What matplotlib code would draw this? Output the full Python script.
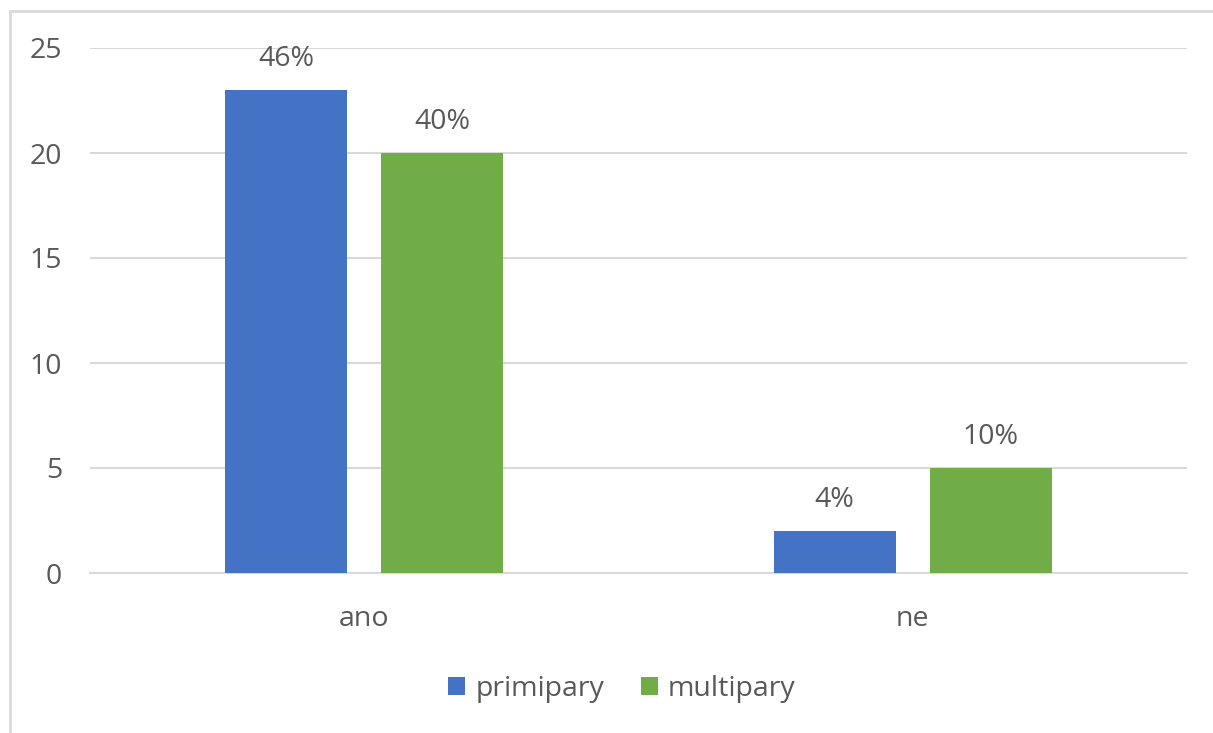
import numpy as np
import matplotlib
matplotlib.use('Agg')
import matplotlib.pyplot as plt
from matplotlib.patches import Rectangle

categories = ['ano', 'ne']
primipary = [23, 2]
multipary = [20, 5]
total = 50
yticks = [0, 5, 10, 15, 20, 25]

plt.rcParams['font.family'] = ['Open Sans', 'DejaVu Sans']
gray = '#595959'
fs = 20.5

W, H = 1213, 733
fig = plt.figure(figsize=(W / 100, H / 100), dpi=100)
ax = fig.add_axes([90 / W, 1 - 573 / H, (1187 - 90) / W, (573 - 48) / H])

# chart border (runs off the right and bottom edge)
fig.patches.append(Rectangle((10 / W, -0.1), 1.2, 1 - 11 / H + 0.1,
                             transform=fig.transFigure, fill=False,
                             edgecolor='#d9d9d9', linewidth=2))

x = np.arange(len(categories))
w = 0.2225
off = 0.1425
colors = ['#4472c4', '#70ad47']
b1 = ax.bar(x - off, primipary, w, color=colors[0], label='primipary', zorder=3)
b2 = ax.bar(x + off, multipary, w, color=colors[1], label='multipary', zorder=3)

for bars, vals in [(b1, primipary), (b2, multipary)]:
    for rect, v in zip(bars, vals):
        ax.annotate(f'{v / total * 100:.0f}%',
                    (rect.get_x() + rect.get_width() / 2, v),
                    xytext=(0, 12), textcoords='offset points',
                    ha='center', va='bottom', fontsize=fs, color=gray)

ax.set_xlim(-0.5, 1.5)
ax.set_ylim(0, 25)
ax.set_yticks(yticks)
ax.set_xticks(x)
ax.set_xticklabels(categories)
ax.grid(axis='y', color='#d9d9d9', linewidth=1.5, zorder=0)
ax.tick_params(axis='both', length=0, labelsize=fs, labelcolor=gray)
ax.tick_params(axis='y', pad=20)
ax.tick_params(axis='x', pad=23)
for s in ['top', 'right', 'left']:
    ax.spines[s].set_visible(False)
ax.spines['bottom'].set_color('#d9d9d9')
ax.spines['bottom'].set_linewidth(1.5)

leg = fig.legend(loc='center', bbox_to_anchor=(622 / W, 1 - 689 / H), ncol=2,
                 frameon=False, fontsize=fs, handlelength=0.6, handleheight=0.6,
                 handletextpad=0.35, columnspacing=1.3)
for t in leg.get_texts():
    t.set_color(gray)

fig.savefig('out.png', dpi=100)
